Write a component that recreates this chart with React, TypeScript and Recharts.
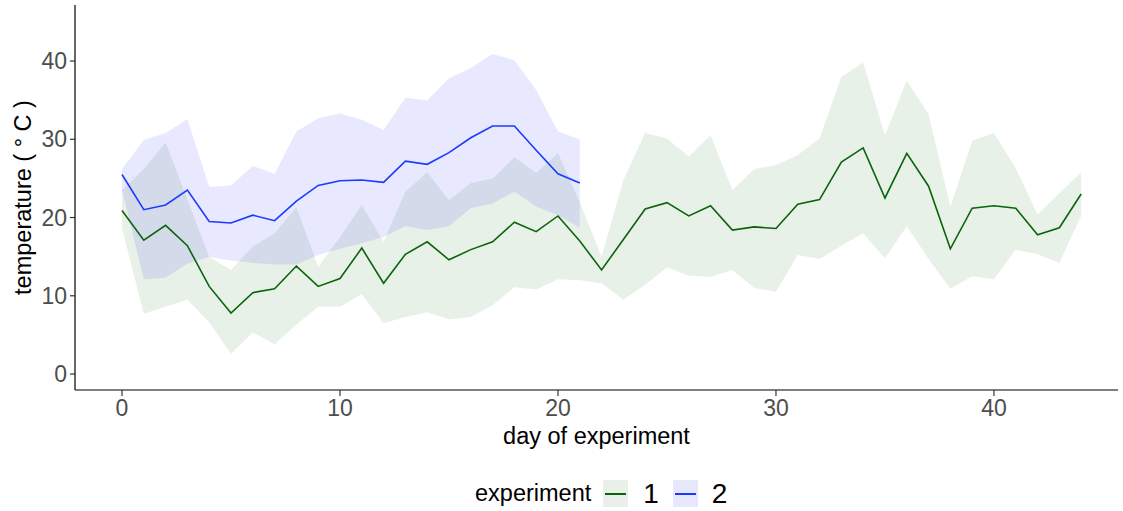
import React from 'react'
import {
  Area,
  ComposedChart,
  Line,
  XAxis,
  YAxis
} from 'recharts'

// day of experiment
const days = [
  0, 1, 2, 3, 4, 5, 6, 7, 8, 9, 10, 11, 12, 13, 14, 15, 16, 17, 18, 19, 20,
  21, 22, 23, 24, 25, 26, 27, 28, 29, 30, 31, 32, 33, 34, 35, 36, 37, 38, 39,
  40, 41, 42, 43, 44
]

// experiment 1 (green)
const exp1Mean = [
  20.9, 17.1, 19.0, 16.4, 11.2, 7.8, 10.4, 10.9, 13.8, 11.2, 12.2, 16.1, 11.6,
  15.3, 16.9, 14.6, 15.9, 16.9, 19.4, 18.2, 20.2, 17.0, 13.3, 17.2, 21.1, 21.9,
  20.2, 21.5, 18.4, 18.8, 18.6, 21.7, 22.3, 27.1, 28.9, 22.5, 28.2, 24.0, 16.0,
  21.2, 21.5, 21.2, 17.8, 18.7, 23.0
]
const exp1Low = [
  18.6, 7.7, 8.6, 9.5, 6.6, 2.6, 5.3, 3.8, 6.3, 8.6, 8.6, 10.2, 6.5, 7.3, 7.9,
  7.0, 7.3, 8.8, 11.1, 10.8, 12.1, 12.0, 11.6, 9.5, 11.4, 13.6, 12.6, 12.4,
  13.3, 11.0, 10.5, 15.2, 14.7, 16.4, 18.0, 14.8, 18.9, 14.7, 10.9, 12.5, 12.1,
  15.9, 15.3, 14.2, 20.2
]
const exp1High = [
  23.5, 26.2, 29.6, 22.3, 15.0, 13.3, 16.3, 18.0, 21.3, 13.7, 17.5, 21.6, 16.9,
  23.3, 25.8, 22.2, 24.4, 25.0, 27.7, 25.7, 28.2, 22.0, 15.0, 24.8, 30.8, 30.1,
  27.8, 30.5, 23.5, 26.2, 26.7, 28.0, 30.1, 38.0, 39.8, 30.5, 37.5, 33.2, 21.4,
  29.8, 30.8, 26.3, 20.4, 23.1, 25.8
]

// experiment 2 (blue), days 0..21 only
const exp2Mean = [
  25.5, 21.0, 21.6, 23.5, 19.5, 19.3, 20.3, 19.6, 22.1, 24.1, 24.7, 24.8, 24.5,
  27.2, 26.8, 28.3, 30.2, 31.7, 31.7, 28.6, 25.6, 24.4
]
const exp2Low = [
  23.5, 12.1, 12.3, 14.1, 15.0, 14.5, 14.2, 14.0, 14.0, 15.2, 16.0, 16.7, 17.5,
  18.9, 18.4, 18.9, 21.2, 21.8, 23.3, 21.4, 20.3, 18.7
]
const exp2High = [
  26.2, 29.9, 30.8, 32.6, 23.9, 24.1, 26.6, 25.6, 31.0, 32.7, 33.3, 32.5, 31.2,
  35.3, 35.0, 37.8, 39.1, 40.9, 40.1, 36.3, 31.0, 30.0
]

const xTicks = [0, 10, 20, 30, 40]
const yTicks = [0, 10, 20, 30, 40]

const GREEN = '#0b640b'
const BLUE = '#1a3bff'

const data = days.map((d, i) => ({
  day: d,
  m1: exp1Mean[i],
  r1: [exp1Low[i], exp1High[i]],
  m2: i < exp2Mean.length ? exp2Mean[i] : null,
  r2: i < exp2Mean.length ? [exp2Low[i], exp2High[i]] : null
}))

const font = 'Liberation Sans, Arial, sans-serif'

function Key({ color, fill }: { color: string; fill: string }) {
  return (
    <div
      style={{
        width: 25,
        height: 27,
        background: fill,
        position: 'relative',
        display: 'inline-block'
      }}
    >
      <div
        style={{
          position: 'absolute',
          left: 2,
          right: 2,
          top: 13,
          height: 2,
          background: color
        }}
      />
    </div>
  )
}

export default function App() {
  return (
    <div
      style={{
        position: 'absolute',
        left: 0,
        top: 0,
        width: 1123,
        height: 511,
        background: '#fff',
        fontFamily: font
      }}
    >
      <ComposedChart
        width={1123}
        height={511}
        data={data}
        margin={{ top: 5, right: 5, bottom: 0, left: 0 }}
      >
        <XAxis
          dataKey="day"
          type="number"
          domain={[-2.156, 45.69]}
          ticks={xTicks}
          allowDataOverflow
          height={121}
          tickSize={6}
          tickMargin={4}
          stroke="#000"
          strokeWidth={1.2}
          tickLine={{ stroke: '#333' }}
          tick={{ fill: '#4d4d4d', fontSize: 23, fontFamily: font }}
          label={{
            value: 'day of experiment',
            position: 'center',
            dy: -15,
            style: { fill: '#000', fontSize: 23.5, fontFamily: font }
          }}
        />
        <YAxis
          type="number"
          domain={[-2.04, 47.16]}
          ticks={yTicks}
          allowDataOverflow
          width={75}
          tickSize={5}
          tickMargin={3}
          stroke="#000"
          strokeWidth={1.2}
          tickLine={{ stroke: '#333' }}
          tick={{ fill: '#4d4d4d', fontSize: 23, fontFamily: font }}
          label={{
            value: 'temperature ( \u00b0  C )',
            position: 'center',
            angle: -90,
            dx: -15,
            style: { fill: '#000', fontSize: 23.5, fontFamily: font }
          }}
        />
        <Area
          dataKey="r1"
          type="linear"
          stroke="none"
          fill="#006400"
          fillOpacity={0.09}
          isAnimationActive={false}
          activeDot={false}
        />
        <Area
          dataKey="r2"
          type="linear"
          stroke="none"
          fill="#0000ff"
          fillOpacity={0.09}
          isAnimationActive={false}
          activeDot={false}
        />
        <Line
          dataKey="m1"
          type="linear"
          stroke={GREEN}
          strokeWidth={1.6}
          dot={false}
          activeDot={false}
          isAnimationActive={false}
        />
        <Line
          dataKey="m2"
          type="linear"
          stroke={BLUE}
          strokeWidth={1.6}
          dot={false}
          activeDot={false}
          isAnimationActive={false}
        />
      </ComposedChart>

      <div
        style={{
          position: 'absolute',
          left: 475,
          top: 480,
          height: 27,
          display: 'flex',
          alignItems: 'center',
          color: '#000'
        }}
      >
        <span style={{ fontSize: 23.5, marginRight: 12 }}>experiment</span>
        <Key color={GREEN} fill="#e8f0e9" />
        <span style={{ fontSize: 28, marginLeft: 15, marginRight: 14 }}>1</span>
        <Key color={BLUE} fill="#e8e8fd" />
        <span style={{ fontSize: 28, marginLeft: 14 }}>2</span>
      </div>
    </div>
  )
}
